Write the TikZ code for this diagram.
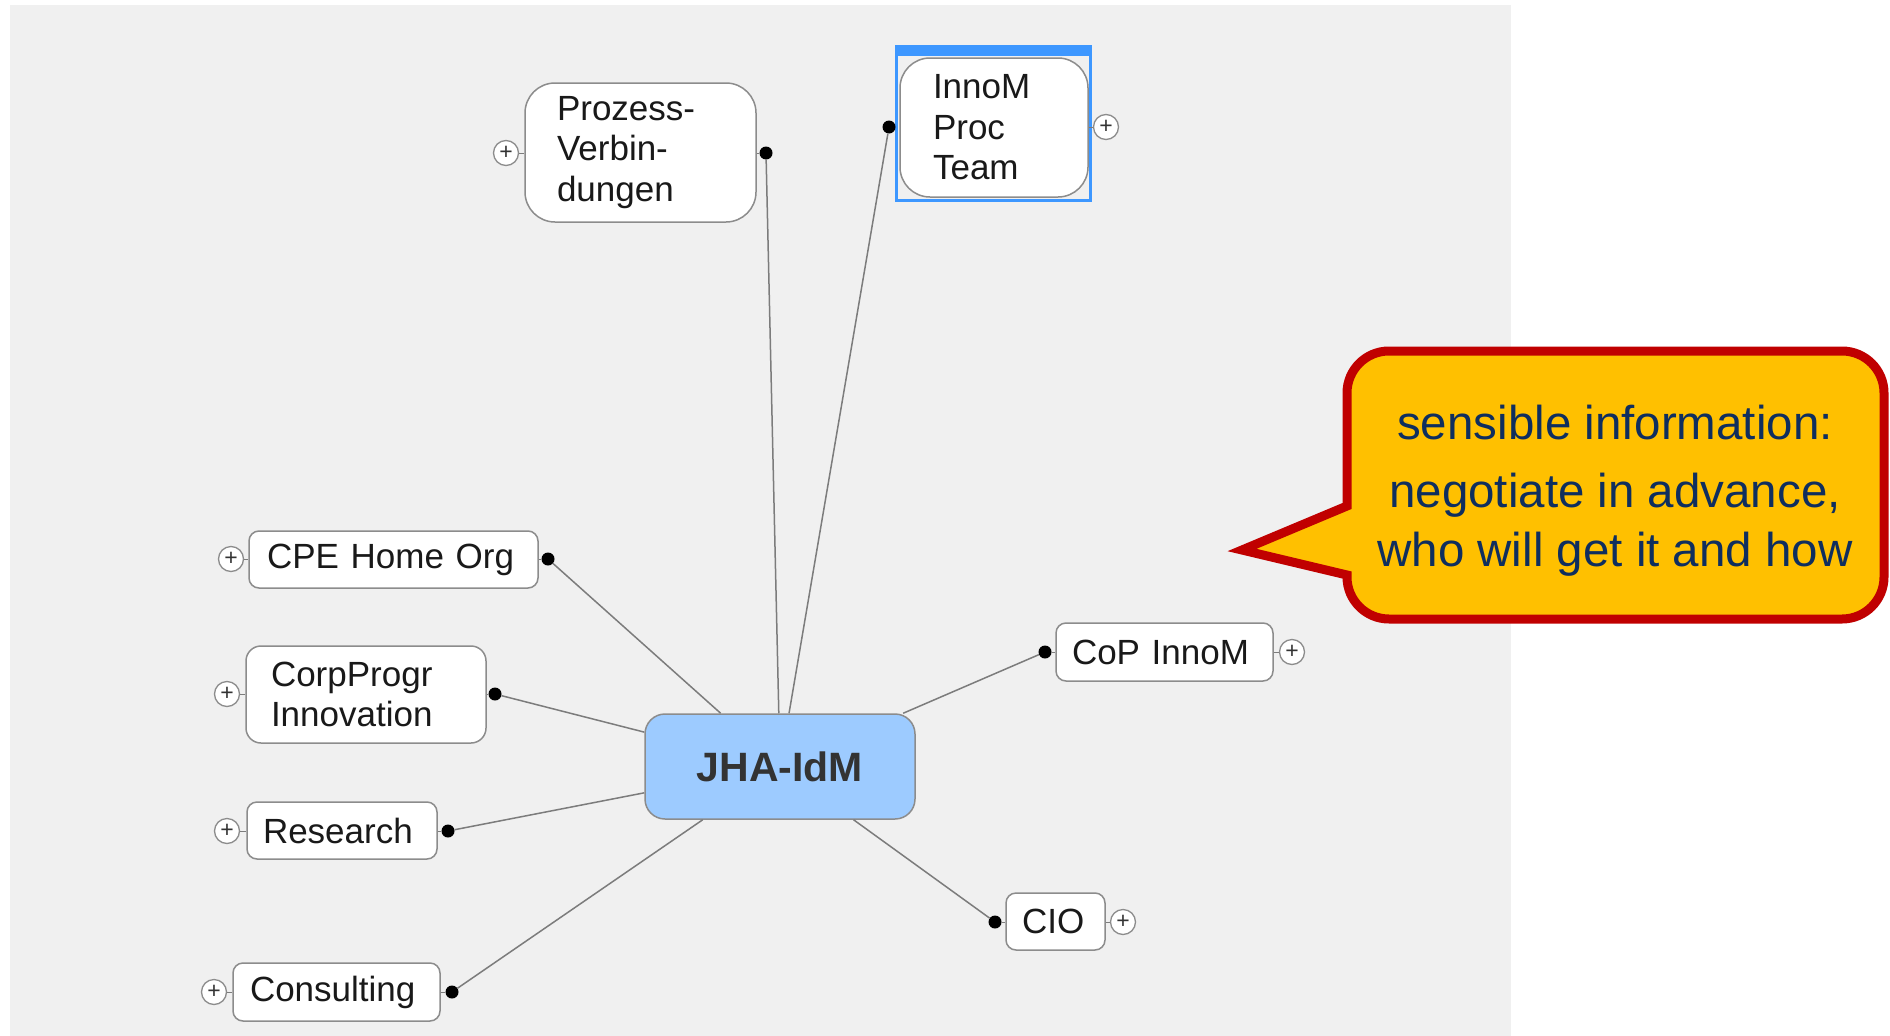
\documentclass[tikz,border=0pt]{standalone}
\usepackage{fontspec}
\setmainfont{Liberation Sans}
\definecolor{bggray}{HTML}{F0F0F0}
\definecolor{boxline}{HTML}{8C8C8C}
\definecolor{connline}{HTML}{7C7C7C}
\definecolor{jhafill}{HTML}{9DCBFF}
\definecolor{jhatext}{HTML}{333333}
\definecolor{selblue}{HTML}{3D97FF}
\definecolor{callfill}{HTML}{FFC000}
\definecolor{callline}{HTML}{C00000}
\definecolor{calltext}{HTML}{0F2E5E}
\tikzset{
  topic/.style={draw=boxline, line width=1.5pt, fill=white, rounded corners=10pt,
    align=left, inner ysep=0pt, font=\fontsize{35}{40.5}\selectfont, text=black!90},
  dotnode/.style={circle, fill=black, inner sep=0pt, minimum size=13pt},
  plusnode/.style={circle, draw=boxline, line width=1.3pt, fill=white, inner sep=0pt,
    minimum size=25pt, font=\fontsize{23}{23}\selectfont, text=black!80},
  conn/.style={draw=connline, line width=1.5pt},
  stub/.style={draw=connline, line width=1pt},
  calltxt/.style={anchor=base, text=calltext, font=\fontsize{47.5}{58}\selectfont, inner sep=0pt},
}
\begin{document}
\begin{tikzpicture}[x=1pt,y=1pt]
\useasboundingbox (0,0) rectangle (1890,-1036);
\fill[white] (0,0) rectangle (1890,-1036);
\fill[bggray] (10,-5) rectangle (1511,-1036);

% central node
\node[draw=boxline, line width=1.5pt, fill=jhafill, rounded corners=20pt,
  minimum width=270pt, minimum height=105pt, inner sep=0pt,
  font=\fontsize{41}{41}\selectfont\bfseries, text=jhatext] (jha) at (780,-766.5) {JHA-IdM};

% selection frame of InnoM Proc Team
\draw[selblue, line width=3pt] (896.5,-46.5) rectangle (1090.5,-200.5);
\fill[selblue] (895,-45) rectangle (1092,-56);

% topics
\node[topic, rounded corners=30pt, text width=167pt, inner xsep=32pt, minimum height=139pt]
  (proz) at (640.5,-152.5) {Prozess-\\Verbin-\\dungen};
\node[topic, rounded corners=30pt, text width=122pt, inner xsep=33pt, minimum height=139pt]
  (innom) at (994,-127.5) {InnoM\\Proc\\Team};
\node[topic, text width=253pt, inner xsep=18pt, minimum height=57pt]
  (cpe) at (393.5,-559.5) {CPE Home Org};
\node[topic, rounded corners=15pt, text width=190pt, inner xsep=25pt, minimum height=97pt]
  (corp) at (366,-694.5) {CorpProgr\\Innovation};
\node[topic, text width=158pt, inner xsep=16pt, minimum height=57pt]
  (res) at (342,-830.5) {Research};
\node[topic, text width=173pt, inner xsep=17pt, minimum height=58pt]
  (cons) at (336.5,-992) {Consulting};
\node[topic, text width=185pt, inner xsep=16pt, minimum height=58pt]
  (cop) at (1164.5,-652) {CoP InnoM};
\node[topic, text width=67pt, inner xsep=16pt, minimum height=57pt]
  (cio) at (1055.5,-921.5) {CIO};

% connector dots
\node[dotnode] (dproz) at (766,-153) {};
\node[dotnode] (dinnom) at (889,-127) {};
\node[dotnode] (dcpe) at (548,-559) {};
\node[dotnode] (dcorp) at (495,-694) {};
\node[dotnode] (dres) at (448,-831) {};
\node[dotnode] (dcons) at (452,-992) {};
\node[dotnode] (dcop) at (1045,-652) {};
\node[dotnode] (dcio) at (995,-922) {};

% expand buttons
\node[plusnode] (pproz) at (506,-153) {+};
\node[plusnode] (pinnom) at (1106,-127) {+};
\node[plusnode] (pcpe) at (231,-559) {+};
\node[plusnode] (pcorp) at (227,-694) {+};
\node[plusnode] (pres) at (227,-831) {+};
\node[plusnode] (pcons) at (214,-992) {+};
\node[plusnode] (pcop) at (1292,-652) {+};
\node[plusnode] (pcio) at (1123,-922) {+};

% short stubs
\draw[stub] (pproz) -- (pproz -| proz.west);
\draw[stub] (dproz) -- (dproz -| proz.east);
\draw[stub] (pinnom) -- (pinnom -| innom.east);
\draw[stub] (pcpe) -- (pcpe -| cpe.west);
\draw[stub] (dcpe) -- (dcpe -| cpe.east);
\draw[stub] (pcorp) -- (pcorp -| corp.west);
\draw[stub] (dcorp) -- (dcorp -| corp.east);
\draw[stub] (pres) -- (pres -| res.west);
\draw[stub] (dres) -- (dres -| res.east);
\draw[stub] (pcons) -- (pcons -| cons.west);
\draw[stub] (dcons) -- (dcons -| cons.east);
\draw[stub] (dcop) -- (dcop -| cop.west);
\draw[stub] (pcop) -- (pcop -| cop.east);
\draw[stub] (dcio) -- (dcio -| cio.west);
\draw[stub] (pcio) -- (pcio -| cio.east);

% connectors to the centre
\draw[conn] (dproz) -- (jha);
\draw[conn] (dinnom) -- (jha);
\draw[conn] (dcpe) -- (jha);
\draw[conn] (dcorp) -- (jha);
\draw[conn] (dres) -- (jha);
\draw[conn] (dcons) -- (jha);
\draw[conn] (dcop) -- (jha);
\draw[conn] (dcio) -- (jha);

% callout
\draw[draw=callline, fill=callfill, line width=9pt, line join=miter]
  (1347,-506) -- (1242,-550) -- (1347,-575) -- (1347,-577)
  arc[start angle=180, end angle=270, radius=42]
  -- (1842,-619)
  arc[start angle=270, end angle=360, radius=42]
  -- (1884,-393)
  arc[start angle=0, end angle=90, radius=42]
  -- (1389,-351)
  arc[start angle=90, end angle=180, radius=42]
  -- cycle;
\node[calltxt] (c1) at (1615,-439) {sensible information:};
\node[calltxt] (c2) at (1615,-507) {negotiate in advance,};
\node[calltxt] (c3) at (1615,-566) {who will get it and how};
\end{tikzpicture}
\end{document}
